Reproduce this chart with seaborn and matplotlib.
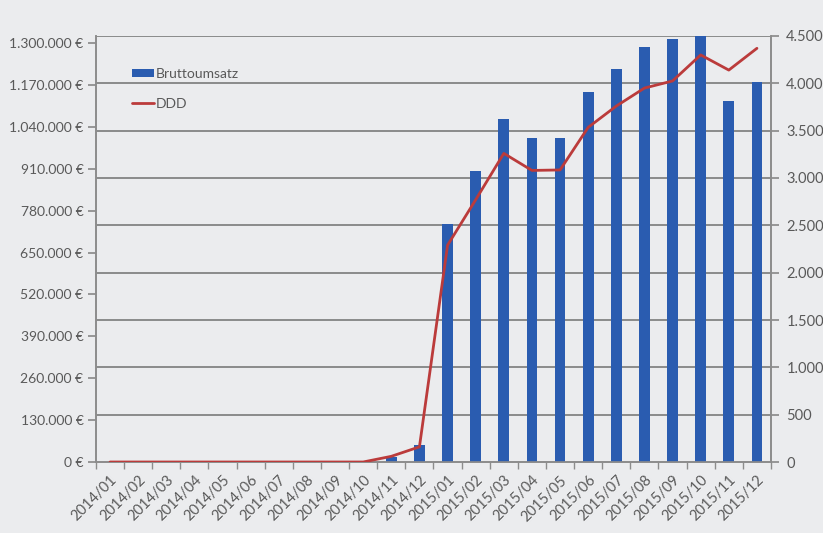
import numpy as np
import pandas as pd
import matplotlib
matplotlib.use("Agg")
import matplotlib.pyplot as plt
from matplotlib.ticker import FuncFormatter, FixedLocator
import seaborn as sns

# Daten
monate = ['2014/01', '2014/02', '2014/03', '2014/04', '2014/05', '2014/06',
          '2014/07', '2014/08', '2014/09', '2014/10', '2014/11', '2014/12',
          '2015/01', '2015/02', '2015/03', '2015/04', '2015/05', '2015/06',
          '2015/07', '2015/08', '2015/09', '2015/10', '2015/11', '2015/12']
umsatz = [0, 0, 0, 0, 0, 0, 0, 0, 0, 0, 15000, 53000,
          738000, 903000, 1063000, 1004000, 1004000, 1149000,
          1221000, 1287000, 1312000, 1322000, 1120000, 1180000]
ddd = [0, 0, 0, 0, 0, 0, 0, 0, 0, 0, 60, 160,
       2290, 2770, 3260, 3080, 3085, 3535,
       3760, 3950, 4025, 4300, 4140, 4370]

df = pd.DataFrame({'Monat': monate, 'Bruttoumsatz': umsatz, 'DDD': ddd})

sns.set_theme(style="white")
plt.rcParams['font.family'] = ['Lato', 'DejaVu Sans']

bg = '#ebecee'
grau = '#595959'
achse = '#8c8c8c'
links_max = 1322000
rechts_max = 4500

fig = plt.figure(figsize=(8.23, 5.33), dpi=100, facecolor=bg)
ax = fig.add_axes([96 / 823, 1 - 462 / 533, 675 / 823, 426 / 533])
ax.set_facecolor(bg)

sns.barplot(data=df, x='Monat', y='Bruttoumsatz', ax=ax, color='#2a5cb0',
            saturation=1, width=0.38, linewidth=0, label='Bruttoumsatz',
            zorder=3)

# Gitterlinien der rechten Achse (hinter den Balken)
for v in np.arange(500, rechts_max + 1, 500):
    ax.axhline(v * links_max / rechts_max, color='#7a7a7a', linewidth=1.2,
               zorder=1)

ax2 = ax.twinx()
ax2.patch.set_visible(False)
sns.lineplot(x=np.arange(len(monate)), y=df['DDD'], ax=ax2, color='#bb3b3b',
             linewidth=2, label='DDD', zorder=4)

# Achsen
ax.set_xlim(-0.5, len(monate) - 0.5)
ax.set_ylim(0, links_max)
ax.set_yticks(np.arange(0, 1300001, 130000))
ax.yaxis.set_major_formatter(FuncFormatter(
    lambda v, p: f"{int(v):,} €".replace(',', '.')))
ax2.set_ylim(0, rechts_max)
ax2.set_yticks(np.arange(0, rechts_max + 1, 500))
ax2.yaxis.set_major_formatter(FuncFormatter(
    lambda v, p: f"{int(v):,}".replace(',', '.')))

ax.set_xlabel('')
ax.set_ylabel('')
ax2.set_ylabel('')
ax.set_xticks(range(len(monate)))
ax.set_xticklabels(monate, rotation=45, ha='right', rotation_mode='anchor')
ax.xaxis.set_minor_locator(FixedLocator(np.arange(-0.5, len(monate), 1)))

for a in (ax, ax2):
    a.spines['top'].set_visible(False)
    for s in ('left', 'right', 'bottom'):
        a.spines[s].set_color(achse)
        a.spines[s].set_linewidth(1.2)

ax.tick_params(axis='y', left=True, length=6, color=achse, labelsize=10,
               labelcolor=grau, pad=3)
ax.tick_params(axis='x', which='major', length=0, labelsize=10.5,
               labelcolor=grau, pad=8)
ax.tick_params(axis='x', which='minor', bottom=True, length=5, color=achse)
ax2.tick_params(axis='y', right=True, length=6, color=achse, labelsize=10.5,
                labelcolor=grau, pad=5)

# Legende
h1, l1 = ax.get_legend_handles_labels()
h2, l2 = ax2.get_legend_handles_labels()
ax2.get_legend().remove()
if ax.get_legend() is not None:
    ax.get_legend().remove()
leg = ax2.legend(h1 + h2, l1 + l2, loc='upper left',
                 bbox_to_anchor=(0.035, 0.955), frameon=False, fontsize=10,
                 handlelength=1.6, handleheight=0.5, handletextpad=0.1,
                 labelspacing=1.3)
for t in leg.get_texts():
    t.set_color(grau)

plt.savefig('out.png', dpi=100, facecolor=bg)
